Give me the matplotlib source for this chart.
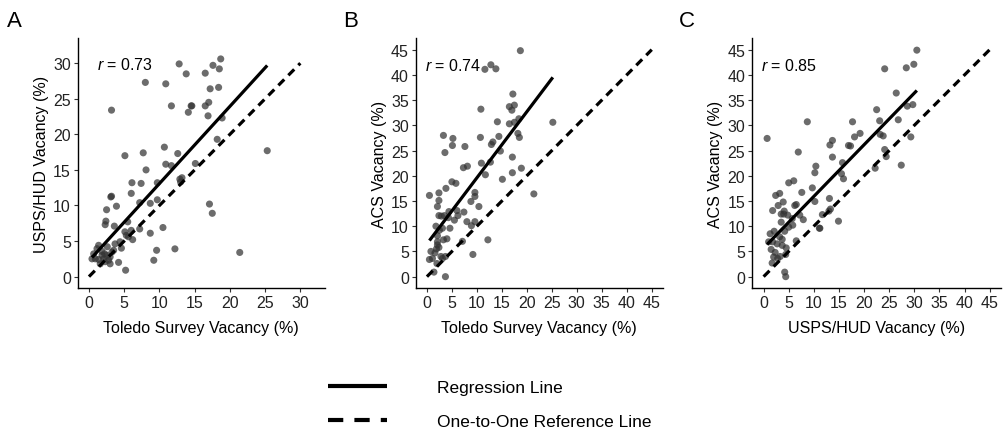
import matplotlib
matplotlib.use("Agg")
import matplotlib.pyplot as plt
from matplotlib.lines import Line2D
import numpy as np

plt.rcParams['font.family'] = ['Liberation Sans', 'DejaVu Sans']
plt.rcParams['mathtext.fontset'] = 'custom'
plt.rcParams['mathtext.rm'] = 'Liberation Sans'
plt.rcParams['mathtext.it'] = 'Liberation Sans:italic'
plt.rcParams['lines.scale_dashes'] = False

# ---------------- Data ----------------
# Panel A: Toledo survey (x) vs USPS/HUD (y)
a_x = [18.7, 12.8, 17.6, 16.5, 18.5, 13.8, 8.0, 10.9, 17.2, 18.4, 3.2, 11.7, 14.5, 14.6,
       16.5, 17.0, 14.1, 16.9, 18.9, 18.2, 25.3, 5.1, 7.7, 10.7, 12.6, 15.1, 10.9, 11.7,
       8.1, 12.9, 13.2, 13.0, 6.1, 7.4, 9.7, 3.2, 3.1, 6.0, 3.9, 2.5, 7.2, 8.7, 9.7, 17.1,
       17.5, 2.4, 2.3, 3.6, 5.5, 5.1, 6.0, 7.2, 8.7, 10.5, 5.6, 6.2, 5.3, 4.4, 3.7, 9.6,
       12.2, 9.2, 21.4, 5.2, 4.2, 1.37, 0.67, 0.9, 1.85, 2.08, 2.3, 2.79, 3.0, 3.26, 3.5,
       1.6, 0.43, 1.14, 2.55, 1.37, 3.0, 2.22, 1.85, 2.6, 4.6]
a_y = [30.6, 29.9, 29.7, 28.6, 29.2, 28.5, 27.3, 27.1, 26.4, 26.6, 23.4, 24.0, 24.0, 24.0,
       24.0, 24.5, 23.1, 22.6, 22.3, 19.3, 17.7, 17.0, 17.4, 18.2, 17.3, 15.9, 15.8, 15.6,
       15.0, 13.7, 13.9, 13.3, 13.2, 13.1, 13.2, 11.3, 11.2, 11.7, 9.9, 9.4, 10.4, 10.3,
       10.8, 10.2, 8.9, 7.8, 7.3, 7.1, 7.7, 6.3, 6.5, 6.7, 6.1, 6.9, 5.6, 5.2, 5.8, 4.9,
       4.6, 3.7, 3.9, 2.3, 3.4, 0.9, 2.0, 4.4, 3.2, 2.5, 3.0, 2.5, 2.1, 2.3, 1.8, 3.46, 3.7,
       1.8, 2.5, 3.93, 3.0, 2.4, 2.76, 3.2, 3.55, 4.2, 4.0]

# Panel B: Toledo survey (x) vs ACS (y)
b_x = [18.7, 11.6, 12.8, 13.8, 17.2, 10.8, 16.5, 17.5, 17.0, 14.1, 16.5, 17.5, 18.4, 25.2,
       18.2, 18.5, 3.3, 5.2, 10.7, 13.2, 12.9, 14.4, 5.1, 7.6, 3.6, 14.7, 12.7, 10.9, 17.1,
       7.3, 8.1, 11.7, 15.1, 17.1, 18.9, 21.4, 5.0, 5.8, 3.8, 0.5, 2.4, 2.4, 2.1, 9.6, 9.6,
       8.8, 10.4, 12.2, 9.2, 3.7, 7.1, 8.0, 8.9, 9.6, 7.4, 6.0, 4.4, 2.4, 3.5, 4.3, 5.5,
       4.6, 1.8, 2.5, 2.1, 3.1, 3.3, 2.1, 2.4, 1.9, 0.8, 1.6, 0.5, 1.1, 2.0, 2.8, 3.7, 3.1,
       1.4, 2.1, 6.2, 4.0, 2.9]
b_y = [44.8, 41.1, 42.0, 41.2, 36.2, 33.2, 33.7, 34.0, 33.0, 30.7, 30.3, 30.6, 31.3, 30.6,
       28.4, 27.6, 28.0, 27.4, 27.6, 26.7, 26.2, 27.8, 26.0, 25.8, 24.6, 24.9, 22.7, 22.5,
       23.7, 21.6, 21.9, 20.2, 19.3, 20.6, 21.5, 16.4, 18.8, 18.5, 17.5, 16.1, 16.6, 15.1,
       13.9, 16.7, 15.9, 14.9, 13.9, 7.3, 4.4, 0.0, 7.0, 10.9, 10.1, 10.9, 12.8, 13.1, 12.9,
       12.1, 12.1, 11.7, 11.2, 9.6, 10.0, 9.2, 8.1, 9.6, 7.3, 6.9, 5.8, 5.5, 5.0, 4.7, 3.4,
       3.6, 2.6, 4.0, 4.0, 3.6, 0.9, 6.3, 12.1, 7.5, 12.0]

# Panel C: USPS/HUD (x) vs ACS (y)
c_x = [30.5, 29.9, 28.4, 24.1, 26.4, 28.6, 29.7, 29.3, 27.4, 26.8, 23.1, 22.5, 17.7, 8.7,
       0.7, 19.2, 18.1, 16.9, 17.3, 23.2, 23.8, 24.1, 24.4, 22.2, 13.7, 13.2, 13.7, 15.7,
       15.5, 15.9, 6.9, 10.4, 10.2, 6.0, 5.0, 7.6, 9.7, 10.2, 13.1, 13.0, 13.3, 14.9, 11.1,
       11.7, 7.9, 7.2, 6.2, 6.5, 5.7, 4.1, 2.4, 3.2, 1.8, 2.9, 3.9, 3.5, 4.0, 4.8, 3.5, 5.0,
       5.8, 4.2, 1.3, 2.1, 3.7, 6.5, 1.8, 2.7, 4.5, 1.5, 2.3, 2.0, 3.3, 4.4, 1.7, 2.8, 3.7,
       4.2, 4.4, 1.0, 3.2, 11.2]
c_y = [44.9, 42.1, 41.4, 41.2, 36.4, 33.8, 34.1, 27.7, 22.1, 31.1, 30.9, 33.1, 30.7, 30.7,
       27.4, 28.4, 27.7, 26.0, 25.9, 28.2, 27.9, 25.2, 23.8, 21.5, 27.0, 26.1, 23.7, 22.6,
       20.4, 19.4, 24.7, 21.9, 20.6, 19.0, 18.6, 16.7, 17.6, 14.9, 15.5, 13.0, 13.4, 11.0,
       9.6, 12.3, 11.3, 12.2, 14.1, 14.3, 11.5, 13.0, 16.1, 16.5, 13.1, 14.1, 14.8, 12.4,
       12.4, 12.2, 10.8, 9.8, 10.2, 9.0, 8.5, 9.0, 7.4, 7.1, 6.9, 6.5, 5.7, 5.4, 4.8, 3.9,
       4.0, 4.4, 2.7, 3.6, 6.2, 0.9, 0.0, 6.9, 7.9, 9.6]

# regression coefficients (slope, intercept) and r values
reg_a = (1.085, 2.23)
reg_b = (1.31, 6.5)
reg_c = (1.024, 5.67)
r_vals = ["0.73", "0.74", "0.85"]

panel_letters = ["A", "B", "C"]
x_labels = ["Toledo Survey Vacancy (%)", "Toledo Survey Vacancy (%)", "USPS/HUD Vacancy (%)"]
y_labels = ["USPS/HUD Vacancy (%)", "ACS Vacancy (%)", "ACS Vacancy (%)"]
ticks_a = [0, 5, 10, 15, 20, 25, 30]
ticks_bc = [0, 5, 10, 15, 20, 25, 30, 35, 40, 45]
legend_labels = ["Regression Line", "One-to-One Reference Line"]

# ---------------- Figure ----------------
W, H = 1004, 435
fig = plt.figure(figsize=(W / 100, H / 100), dpi=100)

def fbox(l, r, t, b):
    return [l / W, 1 - b / H, (r - l) / W, (b - t) / H]

boxes = [fbox(77.7, 325, 39.3, 289), fbox(415.7, 663, 39.3, 289), fbox(752.3, 1001, 39.3, 289)]
lims = [(-1.6, 33.5), (-2.25, 47.25), (-2.25, 47.25)]
xs = [a_x, b_x, c_x]
ys = [a_y, b_y, c_y]
regs = [reg_a, reg_b, reg_c]
ref_max = [30, 45, 45]
tick_sets = [ticks_a, ticks_bc, ticks_bc]
r_pos = [(1.2, 29.9), (-0.4, 42.0), (-0.5, 42.0)]
letter_x = [7, 343, 679]

for i in range(3):
    ax = fig.add_axes(boxes[i])
    x = np.array(xs[i]); y = np.array(ys[i])
    ax.scatter(x, y, s=26, color='#333333', alpha=0.72, edgecolors='none', zorder=2)
    slope, icpt = regs[i]
    xr = np.array([x.min(), x.max()])
    ax.plot(xr, slope * xr + icpt, color='black', lw=2.3, solid_capstyle='butt', zorder=3)
    ax.plot([0, ref_max[i]], [0, ref_max[i]], color='black', lw=2.3,
            dashes=(6, 4.2), zorder=3)
    ax.set_xlim(*lims[i]); ax.set_ylim(*lims[i])
    ax.set_xticks(tick_sets[i]); ax.set_yticks(tick_sets[i])
    for s in ['top', 'right']:
        ax.spines[s].set_visible(False)
    for s in ['left', 'bottom']:
        ax.spines[s].set_linewidth(1.0)
        ax.spines[s].set_color('black')
    ax.tick_params(length=3, width=0.8, color='#333333', labelsize=11.5,
                   labelcolor='#222222', pad=2)
    ax.set_xlabel(x_labels[i], fontsize=11.5, labelpad=7)
    ax.set_ylabel(y_labels[i], fontsize=11.5, labelpad=3)
    ax.text(r_pos[i][0], r_pos[i][1], r'$r$ = ' + r_vals[i], fontsize=11.5,
            va='center', ha='left')
    fig.text(letter_x[i] / W, 1 - 27 / H, panel_letters[i], fontsize=16,
             va='baseline', ha='left')

handles = [Line2D([], [], color='black', lw=3, solid_capstyle='butt'),
           Line2D([], [], color='black', lw=3, dashes=(11, 8))]
fig.legend(handles, legend_labels, loc='upper left',
           bbox_to_anchor=(328 / W, 1 - 381 / H), frameon=False,
           fontsize=12.5, handlelength=3.4, handletextpad=2.9,
           labelspacing=1.1, borderpad=0, borderaxespad=0)

fig.savefig("out.png", dpi=100)
